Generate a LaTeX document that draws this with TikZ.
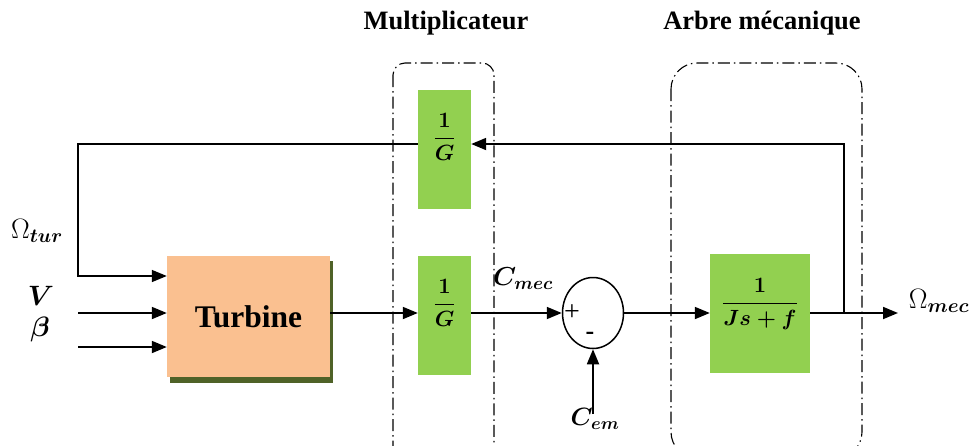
\RequirePackage{fix-cm}
\documentclass[tikz,border=0pt]{standalone}
\usepackage[no-math]{fontspec}
\setmainfont{Liberation Serif}
\usepackage{amsmath,bm}
\usetikzlibrary{arrows.meta,shapes.geometric}
\definecolor{turbfill}{HTML}{FAC090}
\definecolor{boxgreen}{HTML}{92D050}
\definecolor{shadowc}{HTML}{4F6228}
\begin{document}
\begin{tikzpicture}[x=1pt,y=-1pt,
  conn/.style={line width=1.8pt},
  arr/.style={conn,-{Triangle[length=15pt,width=12pt]}},
  gbox/.style={fill=boxgreen, draw=none, inner sep=0pt},
  group/.style={draw, line width=1.1pt, dash pattern=on 12pt off 4pt on 1.5pt off 4pt},
  title/.style={font=\bfseries\fontsize{26.5}{30}\selectfont, inner sep=0pt},
  lab/.style={font=\fontsize{22}{26}\selectfont, inner sep=0pt},
  biglab/.style={font=\fontsize{28}{32}\selectfont, inner sep=0pt}]
\useasboundingbox (0,0) rectangle (972,445);
\clip (0,0) rectangle (972,445);

% titles
\node[title] (t1) at (446,23) {Multiplicateur};
\node[title] (t2) at (762,23) {Arbre mécanique};

% group frames
\draw[group, rounded corners=12pt] (393,63) rectangle (494,458);
\draw[group, rounded corners=26pt] (671,63) rectangle (862,458);

% turbine
\fill[shadowc] (170,261) rectangle (333,383);
\node[fill=turbfill, minimum width=163pt, minimum height=121pt, inner sep=0pt,
      font=\bfseries\fontsize{31.5}{36}\selectfont] (turb) at (248.5,316.5) {Turbine};

% gain boxes
\node[gbox, minimum width=53pt, minimum height=119pt] (g1) at (444.5,149.5) {};
\node[lab] (g1t) at (444.5,137) {$\bm{\dfrac{1}{G}}$};
\node[gbox, minimum width=53pt, minimum height=119pt] (g2) at (444.5,315.5) {};
\node[lab] (g2t) at (444.5,303) {$\bm{\dfrac{1}{G}}$};
\node[gbox, minimum width=100pt, minimum height=119pt] (tf) at (760,313.5) {};
\node[lab] (tft) at (760,304) {$\bm{\dfrac{1}{Js+f}}$};

% summing junction
\node[draw, ellipse, line width=1.5pt, minimum width=61pt, minimum height=71pt, inner sep=0pt] (sum) at (593,313) {};
\node[font=\fontsize{28}{30}\selectfont, inner sep=0pt] (plus) at (572,313) {+};
\node[font=\bfseries\fontsize{26}{26}\selectfont, inner sep=0pt] (minus) at (590,336) {-};

% coordinates
\coordinate (tap) at (844,313);
\coordinate (fbR) at (844,144);
\coordinate (fbL) at (78,144);
\coordinate (fbD) at (78,276);
\coordinate (vS) at (78,313);
\coordinate (bS) at (78,347);
\coordinate (out) at (898,313);
\coordinate (cemS) at (593,414);

% connectors
\draw[arr] (turb.east |- sum) -- (g2.west |- sum);
\draw[arr] (g2.east |- sum) -- (sum.west);
\draw[arr] (sum.east) -- (tf.west |- sum);
\draw[arr] (tf.east |- sum) -- (out);
\draw[arr] (tap) -- (fbR) -- (g1.east |- fbR);
\draw[arr, line width=1.5pt] (g1.west |- fbL) -- (fbL) -- (fbD) -- (turb.west |- fbD);
\draw[arr] (vS) -- (turb.west |- vS);
\draw[arr] (bS) -- (turb.west |- bS);
\draw[arr] (cemS) -- (sum.south);

% labels
\node[biglab] (otur) at (37,231) {$\Omega_{\bm{tur}}$};
\node[biglab] (lv) at (41,296) {$\bm{V}$};
\node[biglab] (lb) at (40,329) {$\bm{\beta}$};
\node[lab, font=\fontsize{26}{30}\selectfont] (cmec) at (523,279) {$\bm{C_{mec}}$};
\node[lab, font=\fontsize{25}{30}\selectfont] (cem) at (595,419) {$\bm{C_{em}}$};
\node[biglab] (omec) at (939,301) {$\Omega_{\bm{mec}}$};
\end{tikzpicture}
\end{document}
